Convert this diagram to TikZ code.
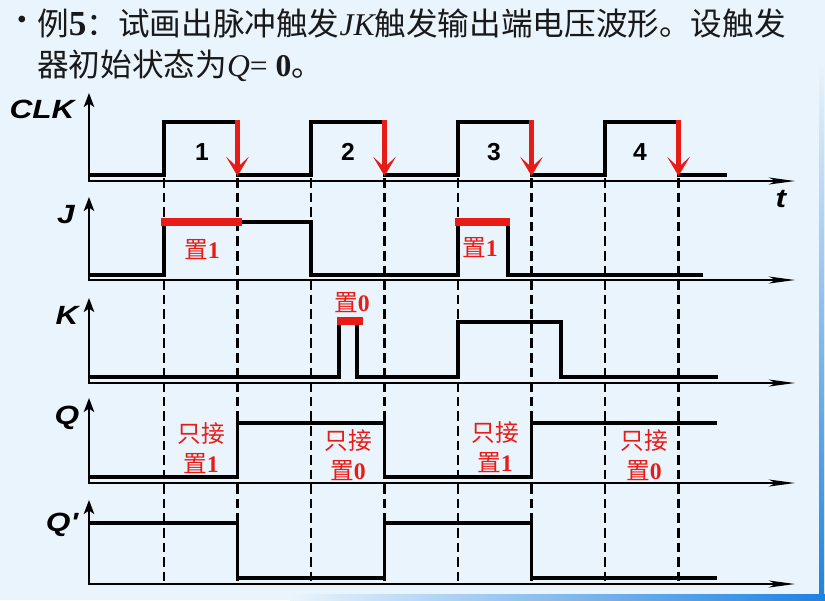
\documentclass[tikz,border=0pt]{standalone}
\usepackage{fontspec}
\setmainfont{Noto Sans CJK SC}
\newfontfamily\tnr{Liberation Serif}
\newfontfamily\arial{Liberation Sans}
\usetikzlibrary{arrows.meta}
\definecolor{fondo}{RGB}{234,244,252}
\definecolor{rojo}{RGB}{232,28,22}
\definecolor{azul}{RGB}{30,130,225}
\definecolor{tinta}{RGB}{25,25,25}
\newcommand{\ancho}[1]{\scalebox{1.2}[1]{#1}}
\tikzstyle{onda}=[line width=1.8pt, line join=miter]
\tikzstyle{eje}=[line width=0.9pt, arrows={Stealth[length=8pt,width=6pt,inset=2pt]-Stealth[length=15pt,width=4pt,inset=4pt]}]
\tikzstyle{guia}=[line width=1.3pt, dash pattern=on 5.5pt off 2.8pt]
\tikzstyle{barra}=[line width=4.5pt, rojo]
\tikzstyle{flecha}=[line width=2.8pt, rojo, arrows={-Stealth[length=11pt,width=13pt,inset=6pt]}]
\tikzstyle{etiq}=[font=\arial\bfseries\itshape\fontsize{15}{15}\selectfont, inner sep=0pt]
\tikzstyle{num}=[font=\arial\bfseries\fontsize{14}{14}\selectfont, inner sep=0pt]
\tikzstyle{nota}=[font=\fontsize{13.5}{17}\selectfont, text=rojo, align=center, inner sep=0pt]
\tikzstyle{titulo}=[font=\fontsize{18}{22}\selectfont, text=tinta, anchor=west, inner sep=0pt]

\begin{document}
\begin{tikzpicture}[x=0.02cm, y=-0.02cm]
            \useasboundingbox (0,0) rectangle (825,600);
            \fill[fondo] (0,0) rectangle (825,600);
            \shade[top color=fondo, bottom color=azul] (819,60) rectangle (824,600);
            \shade[left color=fondo, right color=azul] (290,594) rectangle (825,600);
            % Enunciado
            \node[titulo] (pto) at (6,24) {•};
            \node[titulo] (tit1) at (37,24) {例{\tnr\bfseries\fontsize{20}{22}\selectfont 5}：试画出脉冲触发{\tnr\itshape JK}触发输出端电压波形。设触发};
            \node[titulo] (tit2) at (37,66) {器初始状态为{\tnr\itshape Q}{\tnr= \bfseries 0}。};
            % Líneas guía
            \foreach \xg in {164,237.5,311,384.5,458,531.5,605,678.5}
                \draw[guia] (\xg,178) -- (\xg,586);
            % Ejes
            \foreach \ya/\yt in {181/93, 280/197, 383/298, 483/398, 584/500}
                \draw[eje] (89,\yt) |- (795,\ya);
            % Nombres de las señales
            \node[etiq] (lclk) at (42,109) {\ancho{CLK}};
            \node[etiq] (lj) at (66,215) {\ancho{J}};
            \node[etiq] (lk) at (67,315) {\ancho{K}};
            \node[etiq] (lq) at (67,418) {\ancho{Q}};
            \node[etiq] (lqn) at (62,525) {\ancho{Q\symbol{"0027}}};
            \node[etiq] (lt) at (781,199) {\ancho{t}};
            % Señales
            \draw[onda] (89,175) -| (164,122) -| (237.5,175) -| (311,122) -| (384.5,175) -| (458,122) -| (531.5,175) -| (605,122) -| (678.5,175) -- (727,175);
            \draw[onda] (89,275) -| (164,222) -| (311,275) -| (458,222) -| (508,275) -- (703,275);
            \draw[onda] (89,377) -| (339,322) -| (357,377) -| (458,322) -| (561,377) -- (718,377);
            \draw[onda] (89,477) -| (237.5,423) -| (384.5,477) -| (531.5,423) -- (717,423);
            \draw[onda] (89,523) -| (237.5,578) -| (384.5,523) -| (531.5,578) -- (717,578);
            % Pulsos y flancos
            \foreach \i in {1,...,4}
                \node[num] (n\i) at ({202+146*(\i-1)},152) {\i};
            \foreach \xf in {237.5,384.5,531.5,678.5}
                \draw[flecha] (\xf,120) -- (\xf,176);
            \draw[barra] (161,222) -- (242,222);
            \draw[barra] (455,222) -- (510,222);
            \draw[barra] (337,321) -- (363,321);
            % Anotaciones
            \node[nota] (sj1) at (202,250) {置{\tnr\bfseries 1}};
            \node[nota] (sj2) at (480,248) {置{\tnr\bfseries 1}};
            \node[nota] (sk1) at (352,303) {置{\tnr\bfseries 0}};
            \node[nota] (sq1) at (201,448) {只接\\置{\tnr\bfseries 1}};
            \node[nota] (sq2) at (348,455) {只接\\置{\tnr\bfseries 0}};
            \node[nota] (sq3) at (495,447) {只接\\置{\tnr\bfseries 1}};
            \node[nota] (sq4) at (644,455) {只接\\置{\tnr\bfseries 0}};
        \end{tikzpicture}
\end{document}
